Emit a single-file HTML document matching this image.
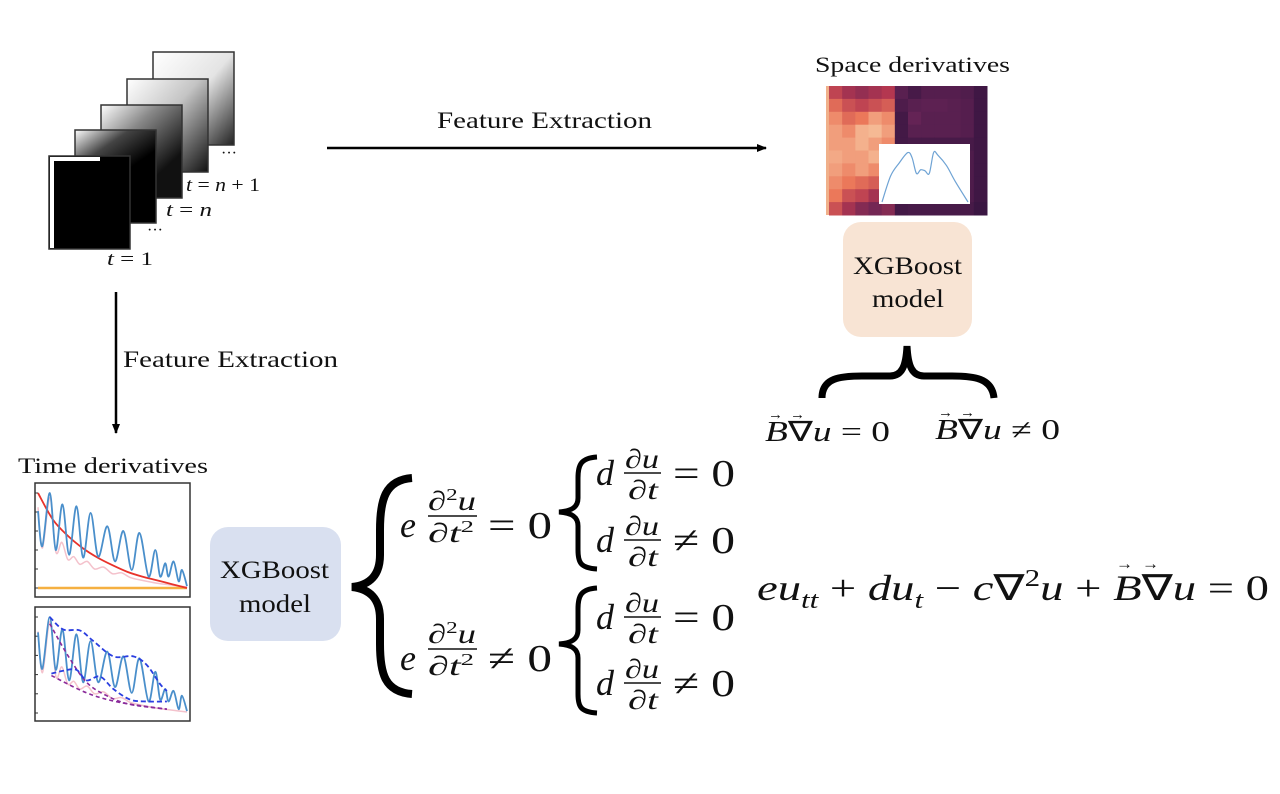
<!DOCTYPE html>
<html><head><meta charset="utf-8"><style>
html,body{margin:0;padding:0;background:#fff;width:1280px;height:794px;overflow:hidden}
svg{display:block}
.s{font-family:"Liberation Serif",serif;font-style:normal;fill:#111}
.i{font-family:"Liberation Serif",serif;font-style:italic;fill:#111}
</style></head><body>
<svg id="root" width="1280" height="794" viewBox="0 0 1280 794">
<defs>
<linearGradient id="g5" x1="0" y1="0" x2="1" y2="1"><stop offset="0" stop-color="#fff"/><stop offset=".5" stop-color="#e4e4e4"/><stop offset="1" stop-color="#222"/></linearGradient>
<linearGradient id="g4" x1="0" y1="0" x2="1" y2="1"><stop offset="0" stop-color="#fff"/><stop offset=".45" stop-color="#c4c4c4"/><stop offset="1" stop-color="#111"/></linearGradient>
<linearGradient id="g3" x1="0" y1="0" x2="0.8" y2="1"><stop offset="0" stop-color="#fff"/><stop offset=".35" stop-color="#888"/><stop offset=".8" stop-color="#111"/></linearGradient>
<linearGradient id="g2" x1="0" y1="0" x2="0.6" y2="1"><stop offset="0" stop-color="#fff"/><stop offset=".3" stop-color="#444"/><stop offset=".6" stop-color="#000"/></linearGradient>
<marker id="ah" markerWidth="10" markerHeight="10" refX="9" refY="5" orient="auto" markerUnits="userSpaceOnUse"><path d="M0,1 L10,5 L0,9 Z" fill="#000"/></marker>
</defs>

<g>
<rect x="153" y="52" width="81" height="93" fill="url(#g5)" stroke="#333" stroke-width="1.5"/>
<rect x="127" y="79" width="81" height="93" fill="url(#g4)" stroke="#333" stroke-width="1.5"/>
<rect x="101" y="105" width="81" height="93" fill="url(#g3)" stroke="#333" stroke-width="1.5"/>
<rect x="75" y="130" width="81" height="93" fill="url(#g2)" stroke="#333" stroke-width="1.5"/>
<rect x="49" y="156" width="81" height="93" fill="#000" stroke="#333" stroke-width="1.5"/>
<rect x="50" y="157" width="4" height="91" fill="#fff"/>
<rect x="50" y="157" width="50" height="4" fill="#fff"/>
<text class="s" x="221" y="158" font-size="16">···</text>
<text class="i" x="186" y="191" font-size="19" textLength="74" lengthAdjust="spacingAndGlyphs">t <tspan class="s">= </tspan>n <tspan class="s">+ 1</tspan></text>
<text class="i" x="166" y="216" font-size="19" textLength="46" lengthAdjust="spacingAndGlyphs">t <tspan class="s">= </tspan>n</text>
<text class="s" x="147" y="235" font-size="16">···</text>
<text class="i" x="107" y="265" font-size="19" textLength="46" lengthAdjust="spacingAndGlyphs">t <tspan class="s">= 1</tspan></text>
</g>

<line x1="327" y1="148" x2="766" y2="148" stroke="#000" stroke-width="2.5" marker-end="url(#ah)"/>
<text class="s" x="437" y="128" font-size="23" textLength="215" lengthAdjust="spacingAndGlyphs">Feature Extraction</text>
<line x1="116" y1="292" x2="116" y2="433" stroke="#000" stroke-width="2.5" marker-end="url(#ah)"/>
<text class="s" x="123" y="367" font-size="23" textLength="215" lengthAdjust="spacingAndGlyphs">Feature Extraction</text>

<text class="s" x="815" y="72" font-size="22" textLength="195" lengthAdjust="spacingAndGlyphs">Space derivatives</text>
<g id="heat"></g>
<rect x="879" y="144" width="91" height="60" fill="#fff"/>
<path id="insetLine" fill="none" stroke="#6fa3d4" stroke-width="1.2"/>

<rect x="843" y="222" width="129" height="115" rx="18" fill="#f8e4d4"/>
<text class="s" x="853" y="274" font-size="25" textLength="109" lengthAdjust="spacingAndGlyphs">XGBoost</text>
<text class="s" x="872" y="307" font-size="25" textLength="72" lengthAdjust="spacingAndGlyphs">model</text>

<path d="M822,398 C822,378 840,376 862,376 L890,376 C902,376 906,366 907,346 C908,366 912,376 924,376 L952,376 C974,376 992,378 994,398" fill="none" stroke="#000" stroke-width="7"/>
<g>
<text class="i" x="765" y="441" font-size="28" textLength="125" lengthAdjust="spacingAndGlyphs">B<tspan class="s">∇</tspan>u <tspan class="s">= 0</tspan></text>
<text class="s" x="768" y="419" font-size="15">→</text><text class="s" x="790" y="419" font-size="15">→</text>
</g>
<g>
<text class="i" x="935" y="439" font-size="28" textLength="125" lengthAdjust="spacingAndGlyphs">B<tspan class="s">∇</tspan>u <tspan class="s">≠ 0</tspan></text>
<text class="s" x="938" y="417" font-size="15">→</text><text class="s" x="960" y="417" font-size="15">→</text>
</g>

<text class="s" x="18" y="473" font-size="22" textLength="190" lengthAdjust="spacingAndGlyphs">Time derivatives</text>
<g id="p1"><rect x="35" y="483" width="155" height="114" fill="#fff" stroke="#333" stroke-width="1.5"/></g>
<g id="p2"><rect x="35" y="607" width="155" height="114" fill="#fff" stroke="#333" stroke-width="1.5"/></g>

<rect x="210" y="527" width="131" height="114" rx="18" fill="#d9e0f0"/>
<text class="s" x="220" y="578" font-size="25" textLength="109" lengthAdjust="spacingAndGlyphs">XGBoost</text>
<text class="s" x="239" y="612" font-size="25" textLength="72" lengthAdjust="spacingAndGlyphs">model</text>

<path d="M412,478 C385,480 380,500 380,530 L380,555 C380,575 370,585 352,587 C370,589 380,599 380,619 L380,644 C380,674 385,692 412,694" fill="none" stroke="#000" stroke-width="8"/>

<g>
<text class="i" x="400" y="537" font-size="36">e</text>
<text class="s" x="428" y="510" font-size="27" textLength="48" lengthAdjust="spacingAndGlyphs">∂<tspan font-size="17" dy="-10">2</tspan><tspan class="i" dy="10">u</tspan></text>
<line x1="428" y1="516" x2="477" y2="516" stroke="#111" stroke-width="1.6"/>
<text class="s" x="428" y="542" font-size="27" textLength="46" lengthAdjust="spacingAndGlyphs">∂<tspan class="i">t</tspan><tspan font-size="17" dy="-10">2</tspan></text>
<text class="s" x="488" y="538" font-size="38" textLength="64" lengthAdjust="spacingAndGlyphs">= 0</text>
</g>
<g>
<text class="i" x="400" y="670" font-size="36">e</text>
<text class="s" x="428" y="643" font-size="27" textLength="48" lengthAdjust="spacingAndGlyphs">∂<tspan font-size="17" dy="-10">2</tspan><tspan class="i" dy="10">u</tspan></text>
<line x1="428" y1="649" x2="477" y2="649" stroke="#111" stroke-width="1.6"/>
<text class="s" x="428" y="675" font-size="27" textLength="46" lengthAdjust="spacingAndGlyphs">∂<tspan class="i">t</tspan><tspan font-size="17" dy="-10">2</tspan></text>
<text class="s" x="488" y="671" font-size="38" textLength="64" lengthAdjust="spacingAndGlyphs">≠ 0</text>
</g>
<path d="M597,457 C580,458 578,466 578,478 L578,498 C578,507 572,511 559,512 C572,513 578,517 578,526 L578,550 C578,562 580,568 597,569" fill="none" stroke="#000" stroke-width="5"/>
<path d="M597,588 C580,589 578,597 578,609 L578,630 C578,639 572,643 559,644 C572,645 578,649 578,658 L578,694 C578,706 580,712 597,713" fill="none" stroke="#000" stroke-width="5"/>
<g id="deq"></g>

<text class="i" x="757" y="600" font-size="36" textLength="512" lengthAdjust="spacingAndGlyphs">eu<tspan font-size="24" dy="8">tt</tspan><tspan class="s" dy="-8"> + </tspan>du<tspan font-size="24" dy="8">t</tspan><tspan class="s" dy="-8"> − </tspan>c<tspan class="s">∇</tspan><tspan class="s" font-size="24" dy="-14">2</tspan><tspan dy="14">u</tspan><tspan class="s"> + </tspan>B<tspan class="s">∇</tspan>u<tspan class="s"> = 0</tspan></text>
<text class="s" x="1116" y="569" font-size="17">→</text>
<text class="s" x="1142" y="569" font-size="17">→</text>
</svg>
<script>
const p1BlueT=[0,2.9,7.9,11.9,16.4,20.9,25.8,30.3,35.3,40.4,46.5,51.7,57.3,62.9,68.1,74.2,78.7,82.0,85.4,87.6,91.0,94.4,96.6,100];
const p1BlueV=[.81,.44,1.0,.40,.88,.35,.86,.32,.79,.33,.65,.28,.60,.19,.58,.12,.40,.12,.26,.12,.28,.07,.19,.02];
const p1RedT=[0,10,20,30,40,50,60,70,80,90,100];
const p1RedV=[1.0,.72,.55,.42,.32,.24,.17,.12,.08,.04,0];
const p1PinkT=[0,3,8,12,16,20,24,28,33,38,44,50,56,62,70,80,90,100];
const p1PinkV=[.85,.42,.95,.38,.48,.30,.33,.25,.28,.20,.22,.15,.16,.11,.08,.05,.03,.01];
const p2BlueV=[.84,.46,1.0,.45,.87,.34,.82,.32,.75,.32,.64,.27,.59,.21,.57,.12,.43,.14,.25,.12,.23,.04,.18,.02];
const p2UpT=[7.9,16.9,28.1,37.1,50.6,64.0,73.0,82.0,86.5];
const p2UpV=[1.0,.87,.86,.75,.59,.59,.50,.30,.23];
const p2LoT=[9,16.9,25.8,32.6,41.6,50.6,61.8,73.0,86.5];
const p2LoV=[.41,.44,.45,.34,.38,.25,.14,.12,.12];
const p2PurT=[7.9,20,32.6,46.1,61.8,86.5];
const p2PurV=[.93,.6,.32,.18,.09,.04];
const p2Pur2T=[9,32.6,55.1,86.5];
const p2Pur2V=[.39,.21,.11,.04];
const p2PinkV=[.85,.42,.95,.38,.48,.30,.33,.25,.28,.20,.22,.15,.16,.11,.08,.05,.03,.01];

function smooth(pts){let d='M'+pts[0][0]+','+pts[0][1];for(let i=0;i<pts.length-1;i++){const p0=pts[i-1]||pts[i],p1=pts[i],p2=pts[i+1],p3=pts[i+2]||p2;const c1=[p1[0]+(p2[0]-p0[0])/6,p1[1]+(p2[1]-p0[1])/6],c2=[p2[0]-(p3[0]-p1[0])/6,p2[1]-(p3[1]-p1[1])/6];d+=' C'+c1[0]+','+c1[1]+' '+c2[0]+','+c2[1]+' '+p2[0]+','+p2[1];}return d;}
const NS='http://www.w3.org/2000/svg';
function mkAxes(x0,x1,yTop,yBot){return {x:t=>x0+(x1-x0)*t/100,y:v=>yBot-(yBot-yTop)*v};}
function addPath(g,T,V,ax,color,w,dash,name){const p=document.createElementNS(NS,'path');p.setAttribute('d',smooth(T.map((t,i)=>[ax.x(t),ax.y(V[i])])));p.setAttribute('fill','none');p.setAttribute('stroke',color);p.setAttribute('stroke-width',w);if(dash)p.setAttribute('stroke-dasharray',dash);


g.appendChild(p);}
function ticks(g,x0,x1,yTop,yBot){for(let i=0;i<6;i++){const l=document.createElementNS(NS,'line');const y=yBot-(yBot-yTop)*i/5;l.setAttribute('x1',35);l.setAttribute('x2',38);l.setAttribute('y1',y);l.setAttribute('y2',y);l.setAttribute('stroke','#333');g.appendChild(l);}}
const g1=document.getElementById('p1'),a1=mkAxes(38,187,493,588);
ticks(g1,38,187,493,588);
addPath(g1,[0,100],[0,0],a1,'#f5b041',2.5,null,'orange-baseline');
addPath(g1,p1PinkT,p1PinkV,a1,'#f4c2cc',1.5,null,'pink-curve-1');
addPath(g1,p1RedT,p1RedV,a1,'#e8322a',1.8,null,'red-envelope');
addPath(g1,p1BlueT,p1BlueV,a1,'#4a8fcb',1.8,null,'blue-signal-1');
const g2=document.getElementById('p2'),a2=mkAxes(38,187,617,713);
ticks(g2,38,187,617,713);
addPath(g2,p1PinkT,p2PinkV,a2,'#f4c2cc',1.5,null,'pink-curve-2');
addPath(g2,p1BlueT,p2BlueV,a2,'#4a8fcb',1.8,null,'blue-signal-2');
addPath(g2,p2PurT,p2PurV,a2,'#8a2a9a',1.6,'4,3','purple-dashed-1');
addPath(g2,p2Pur2T,p2Pur2V,a2,'#8a2a9a',1.6,'4,3','purple-dashed-2');
addPath(g2,p2UpT,p2UpV,a2,'#2a3ee0',1.8,'5,3','blue-upper-envelope');
addPath(g2,p2LoT,p2LoV,a2,'#2a3ee0',1.8,'5,3','blue-lower-envelope');

const heatRows=[
[.55,.45,.40,.45,.50,.20,.12,.18,.18,.18,.16,.08],
[.70,.60,.55,.60,.65,.15,.20,.22,.22,.20,.18,.08],
[.80,.70,.75,.85,.80,.10,.25,.20,.20,.20,.18,.08],
[.85,.80,.90,.92,.85,.10,.20,.20,.20,.20,.18,.08],
[.85,.85,.90,.85,.80,.10,.12,.12,.12,.12,.12,.08],
[.88,.85,.85,.90,.80,.12,.15,.15,.15,.15,.15,.08],
[.85,.80,.85,.80,.75,.12,.15,.15,.15,.15,.15,.08],
[.80,.75,.70,.65,.70,.12,.15,.15,.15,.15,.15,.08],
[.75,.60,.55,.45,.50,.12,.15,.15,.15,.15,.15,.08],
[.60,.45,.35,.30,.35,.10,.12,.12,.12,.12,.12,.06]];
const cmap=[[45,18,60],[100,35,85],[180,55,80],[235,120,90],[250,215,175]];
function col(v){const s=v*(cmap.length-1),i=Math.min(Math.floor(s),cmap.length-2),f=s-i;return 'rgb('+cmap[i].map((c,k)=>Math.round(c+(cmap[i+1][k]-c)*f)).join(',')+')';}
const hg=document.getElementById('heat'),hx0=829,hy0=86,hw=158,hh=129;
heatRows.forEach((row,r)=>row.forEach((v,c)=>{const e=document.createElementNS(NS,'rect');e.setAttribute('x',hx0+c*hw/row.length);e.setAttribute('y',hy0+r*hh/heatRows.length);e.setAttribute('width',hw/row.length+.5);e.setAttribute('height',hh/heatRows.length+.5);e.setAttribute('fill',col(v));


hg.appendChild(e);}));
const edge=document.createElementNS(NS,'rect');edge.setAttribute('x',826);edge.setAttribute('y',86);edge.setAttribute('width',3);edge.setAttribute('height',129);edge.setAttribute('fill','#f0b08a');hg.appendChild(edge);
const insetT=[0,10,20,30,35,40,45,50,55,60,65,75,85,100];
const insetV=[0,.5,.75,.95,.85,.55,.62,.6,.55,.95,.9,.7,.4,0];
const ia=mkAxes(882,968,150,202);
document.getElementById('insetLine').setAttribute('d',smooth(insetT.map((t,i)=>[ia.x(t),ia.y(insetV[i])])));

const dg=document.getElementById('deq');
const rows=[[473,'= 0'],[540,'≠ 0'],[617,'= 0'],[683,'≠ 0']];
rows.forEach(([b,rhs])=>{
 const h=`<text class="i" x="596" y="${b+12}" font-size="36">d</text>
 <text class="s" x="625" y="${b-5}" font-size="27" textLength="34" lengthAdjust="spacingAndGlyphs">∂<tspan class="i">u</tspan></text>
 <line x1="624" y1="${b}" x2="661" y2="${b}" stroke="#111" stroke-width="1.6"/>
 <text class="s" x="628" y="${b+26}" font-size="27" textLength="30" lengthAdjust="spacingAndGlyphs">∂<tspan class="i">t</tspan></text>
 <text class="s" x="673" y="${b+13}" font-size="38" textLength="62" lengthAdjust="spacingAndGlyphs">${rhs}</text>`;
 const g=document.createElementNS(NS,'g');g.innerHTML=h;
 
 
 dg.appendChild(g);
});
</script>
</body></html>
